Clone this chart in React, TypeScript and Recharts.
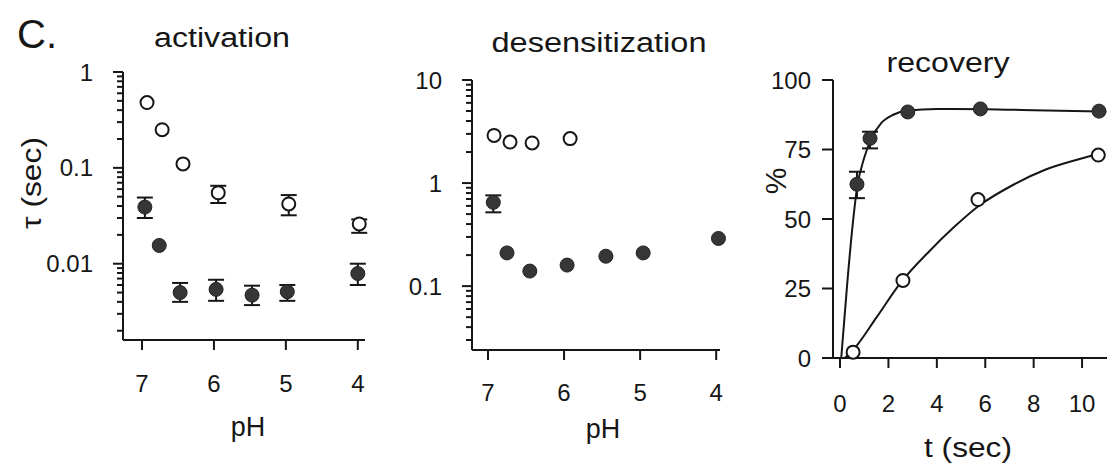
import React from "react";
import {
  ComposedChart,
  Scatter,
  Line,
  XAxis,
  YAxis,
  ErrorBar,
} from "recharts";

// activation (tau, sec) vs pH
const actOpenPH = [6.93, 6.72, 6.43, 5.94, 4.96, 3.98];
const actOpenTau = [0.48, 0.25, 0.11, 0.055, 0.042, 0.026];
const actOpenErr = [[0, 0], [0, 0], [0, 0], [0.012, 0.01], [0.01, 0.01], [0.005, 0.003]];
const actFillPH = [6.96, 6.76, 6.47, 5.97, 5.47, 4.98, 4.0];
const actFillTau = [0.039, 0.0155, 0.005, 0.0054, 0.0047, 0.0051, 0.0079];
const actFillErr = [
  [0.009, 0.01], [0, 0], [0.001, 0.0013], [0.0013, 0.0014],
  [0.001, 0.0012], [0.001, 0.0009], [0.0019, 0.0021],
];

// desensitization (tau, sec) vs pH
const desOpenPH = [6.92, 6.71, 6.42, 5.92];
const desOpenTau = [2.9, 2.5, 2.45, 2.7];
const desFillPH = [6.93, 6.75, 6.45, 5.96, 5.45, 4.96, 3.97];
const desFillTau = [0.65, 0.21, 0.14, 0.16, 0.195, 0.21, 0.29];
const desFillErr = [[0.13, 0.11], [0, 0], [0, 0], [0, 0], [0, 0], [0, 0], [0, 0]];

// recovery (%) vs t (sec)
const recOpenT = [0.54, 2.6, 5.7, 10.67];
const recOpenPct = [2.1, 27.9, 57, 73];
const recFillT = [0.7, 1.24, 2.8, 5.8, 10.7];
const recFillPct = [62.5, 79, 88.5, 89.6, 88.8];
const recFillErr = [[5, 4.5], [3.6, 2.4], [0, 0], [0, 0], [0, 0]];

// fitted curves
const fastFitT = [0.05, 0.3, 0.5, 0.7, 1.0, 1.3, 1.7, 2.2, 2.8, 4, 6, 8, 11];
const fastFitPct = [0, 27, 46, 61, 72, 79, 84.5, 87.5, 89, 89.6, 89.5, 89.1, 88.6];
const slowFitT = [0.2, 0.6, 1.5, 2.5, 3.7, 4.7, 5.7, 7.2, 8.5, 9.9, 10.7];
const slowFitPct = [0, 3.5, 14.5, 27, 38.5, 47, 54.5, 62.5, 67.8, 71.6, 73.5];

const pHTicks = [7, 6, 5, 4];
const actMajor = [0.01, 0.1, 1];
const desMajor = [0.1, 1, 10];
const minorSteps = [2, 3, 4, 5, 6, 7, 8, 9];
const recXTicks = [0, 2, 4, 6, 8, 10];
const recYTicks = [0, 25, 50, 75, 100];

const INK = "#161616";
const FONT = "'Liberation Sans', Arial, Helvetica, sans-serif";

type Pt = { x: number; y: number; err: number[] };

const zip = (xs: number[], ys: number[], errs?: number[][]): Pt[] =>
  xs.map((x, i) => ({ x, y: ys[i], err: errs ? errs[i] : [0, 0] }));

const withErr = (pts: Pt[]) => pts.filter((p) => p.err[0] > 0 || p.err[1] > 0);

const logTicks = (majors: number[], lo: number) => {
  const out: number[] = [];
  [majors[0] / 10, ...majors].forEach((d) => {
    out.push(d);
    minorSteps.forEach((m) => out.push(d * m));
  });
  return out.filter((v) => v >= lo && v <= majors[majors.length - 1] * 1.0001);
};

const OpenDot = (p: any) => (
  <circle cx={p.cx} cy={p.cy} r={6.5} fill="#fff" stroke={INK} strokeWidth={2} />
);
const FillDot = (p: any) => (
  <circle cx={p.cx} cy={p.cy} r={7} fill="#363636" stroke="#222" strokeWidth={1} />
);
const NoDot = () => <g />;

const makeLogTick = (majors: number[]) => (p: any) => {
  const v = p.payload.value;
  const major = majors.some((m) => Math.abs(m - v) / m < 1e-6);
  return (
    <g>
      <line x1={p.x} x2={p.x - (major ? 10 : 6)} y1={p.y} y2={p.y} stroke={INK} strokeWidth={2} />
      {major && (
        <text x={p.x - 30} y={p.y} textAnchor="end" dominantBaseline="central" fontSize={24} fontFamily={FONT} fill={INK}>
          {String(v)}
        </text>
      )}
    </g>
  );
};

const makeXTick = (dy: number) => (p: any) => (
  <g>
    <line x1={p.x} x2={p.x} y1={p.y} y2={p.y + 10} stroke={INK} strokeWidth={2} />
    <text x={p.x} y={p.y + dy} textAnchor="middle" dominantBaseline="central" fontSize={24} fontFamily={FONT} fill={INK}>
      {p.payload.value}
    </text>
  </g>
);

const LinYTick = (p: any) => (
  <g>
    <line x1={p.x} x2={p.x - 11} y1={p.y} y2={p.y} stroke={INK} strokeWidth={2} />
    <text x={p.x - 22} y={p.y} textAnchor="end" dominantBaseline="central" fontSize={24} fontFamily={FONT} fill={INK}>
      {p.payload.value}
    </text>
  </g>
);

const W = 1110;
const H = 471;
const layer: React.CSSProperties = { position: "absolute", left: 0, top: 0 };
const axisLine = { stroke: INK, strokeWidth: 2 };

// error bars go first with an invisible shape, the dots are drawn on top of them
function seriesWithBars(pts: Pt[], shape: any) {
  return [
    <Scatter key="bars" data={withErr(pts)} shape={NoDot} isAnimationActive={false}>
      <ErrorBar dataKey="err" direction="y" width={8} stroke={INK} strokeWidth={2} />
    </Scatter>,
    <Scatter key="dots" data={pts} shape={shape} isAnimationActive={false} />,
  ];
}

function PhPanel(props: {
  left: number; right: number; top: number; bottom: number;
  xDomain: [number, number]; yDomain: [number, number]; majors: number[];
  open: Pt[]; fill: Pt[]; tickDy: number;
}) {
  const { left, right, top, bottom, xDomain, yDomain, majors, open, fill, tickDy } = props;
  return (
    <div style={layer}>
      <ComposedChart
        width={W}
        height={H}
        margin={{ left: left - 60, right: W - right, top, bottom: H - bottom - 30 }}
      >
        <XAxis
          type="number"
          dataKey="x"
          domain={xDomain}
          reversed
          ticks={pHTicks}
          interval={0}
          height={30}
          tickSize={0}
          tickMargin={0}
          tickLine={false}
          axisLine={axisLine}
          tick={makeXTick(tickDy)}
        />
        <YAxis
          type="number"
          dataKey="y"
          scale="log"
          domain={yDomain}
          ticks={logTicks(majors, yDomain[0])}
          interval={0}
          width={60}
          tickSize={0}
          tickMargin={0}
          tickLine={false}
          axisLine={axisLine}
          tick={makeLogTick(majors)}
        />
        {seriesWithBars(open, OpenDot)}
        {seriesWithBars(fill, FillDot)}
      </ComposedChart>
    </div>
  );
}

function RecoveryPanel() {
  const left = 833, right = 1107, top = 80, bottom = 358;
  return (
    <div style={layer}>
      <ComposedChart
        width={W}
        height={H}
        margin={{ left: left - 60, right: W - right, top, bottom: H - bottom - 30 }}
      >
        <XAxis
          type="number"
          dataKey="x"
          domain={[-0.29, 11.03]}
          ticks={recXTicks}
          interval={0}
          height={30}
          tickSize={0}
          tickMargin={0}
          tickLine={false}
          axisLine={axisLine}
          tick={makeXTick(45)}
        />
        <YAxis
          type="number"
          dataKey="y"
          domain={[0, 100]}
          ticks={recYTicks}
          interval={0}
          width={60}
          tickSize={0}
          tickMargin={0}
          tickLine={false}
          axisLine={axisLine}
          tick={LinYTick}
        />
        <Line
          data={zip(fastFitT, fastFitPct)}
          dataKey="y"
          type="monotone"
          stroke={INK}
          strokeWidth={2}
          dot={false}
          isAnimationActive={false}
        />
        <Line
          data={zip(slowFitT, slowFitPct)}
          dataKey="y"
          type="monotone"
          stroke={INK}
          strokeWidth={2}
          dot={false}
          isAnimationActive={false}
        />
        <Scatter data={zip(recOpenT, recOpenPct)} shape={OpenDot} isAnimationActive={false} />
        {seriesWithBars(zip(recFillT, recFillPct, recFillErr), FillDot)}
      </ComposedChart>
    </div>
  );
}

export default function App() {
  const txt = { fontFamily: FONT, fill: INK } as const;
  return (
    <div style={{ position: "absolute", left: 0, top: 0, width: W, height: H, background: "#fff", overflow: "hidden" }}>
      <PhPanel
        left={123} right={365} top={72} bottom={340}
        xDomain={[3.9, 7.264]} yDomain={[0.0016, 1]} majors={actMajor}
        open={zip(actOpenPH, actOpenTau, actOpenErr)}
        fill={zip(actFillPH, actFillTau, actFillErr)}
        tickDy={43}
      />
      <PhPanel
        left={472} right={720} top={80} bottom={350}
        xDomain={[3.95, 7.21]} yDomain={[0.024, 10]} majors={desMajor}
        open={zip(desOpenPH, desOpenTau)}
        fill={zip(desFillPH, desFillTau, desFillErr)}
        tickDy={42}
      />
      <RecoveryPanel />
      <svg width={W} height={H} style={{ ...layer, pointerEvents: "none" }}>
        <text x={17} y={48} fontSize={40} {...txt}>C.</text>
        <text x={222} y={47} fontSize={27} textAnchor="middle" textLength={136} lengthAdjust="spacingAndGlyphs" {...txt}>activation</text>
        <text x={599} y={52} fontSize={27} textAnchor="middle" textLength={215} lengthAdjust="spacingAndGlyphs" {...txt}>desensitization</text>
        <text x={948} y={72} fontSize={27} textAnchor="middle" textLength={123} lengthAdjust="spacingAndGlyphs" {...txt}>recovery</text>
        <text x={248} y={436} fontSize={27} textAnchor="middle" {...txt}>pH</text>
        <text x={603} y={438} fontSize={27} textAnchor="middle" {...txt}>pH</text>
        <text x={968} y={457} fontSize={27} textAnchor="middle" textLength={88} lengthAdjust="spacingAndGlyphs" {...txt}>t (sec)</text>
        <text x={32} y={183} fontSize={27} textAnchor="middle" dominantBaseline="central" textLength={92} lengthAdjust="spacingAndGlyphs" transform="rotate(-90 32 183)" {...txt}>τ (sec)</text>
        <text x={775} y={181} fontSize={30} textAnchor="middle" dominantBaseline="central" transform="rotate(-90 775 181)" {...txt}>%</text>
      </svg>
    </div>
  );
}
